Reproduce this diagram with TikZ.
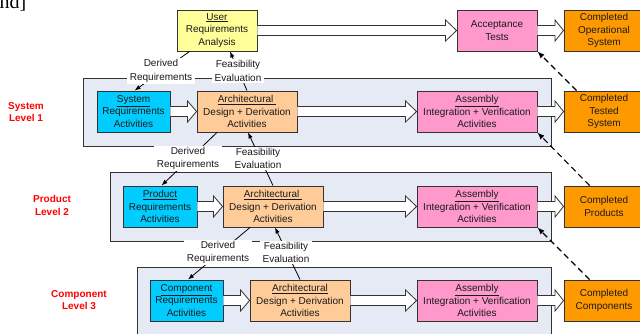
\documentclass[tikz,border=0pt]{standalone}
\usepackage{fontspec}
\setmainfont{Liberation Sans}
\newfontfamily\seriffont{Liberation Serif}
\usetikzlibrary{calc,arrows.meta}
\definecolor{uryellow}{HTML}{FFFF99}
\definecolor{reqcyan}{HTML}{00CCFF}
\definecolor{archorange}{HTML}{FFCC99}
\definecolor{asmpink}{HTML}{FF99CC}
\definecolor{donorange}{HTML}{FF9900}
\definecolor{panelbg}{HTML}{E5EAF4}
\definecolor{edgegray}{HTML}{333333}
\definecolor{txtgray}{HTML}{1A1A1A}
\definecolor{lvlred}{HTML}{FF0000}
\newcommand{\harrow}[3][10pt]{\draw[hollow] let \p1=(#2.east), \p2=(#3.west) in
  (\x1,\y1+5pt) -- (\x2-#1,\y1+5pt) -- (\x2-#1,\y1+10.5pt) -- (\x2,\y1) --
  (\x2-#1,\y1-10.5pt) -- (\x2-#1,\y1-5pt) -- (\x1,\y1-5pt);}
\begin{document}
\begin{tikzpicture}[x=1pt,y=-1pt,
  box/.style={draw=edgegray, line width=0.9pt, minimum height=41pt, inner sep=0pt,
    align=center, text=txtgray, font=\fontsize{10}{12.7}\selectfont},
  panel/.style={fill=panelbg, draw=edgegray, line width=0.9pt},
  lbl/.style={fill=white, inner xsep=2.5pt, inner ysep=1.5pt, align=center,
    text=txtgray, font=\fontsize{10}{13.4}\selectfont},
  lvl/.style={align=center, text=lvlred, font=\bfseries\fontsize{10}{12.5}\selectfont},
  conn/.style={draw=black, line width=0.8pt, -{Latex[length=6pt,width=4.5pt]}},
  dasharrow/.style={draw=black, line width=1.1pt, dash pattern=on 6pt off 4pt,
    -{Latex[length=7pt,width=5.5pt]}},
  hollow/.style={fill=white, draw=edgegray, line width=0.8pt, line join=miter}
]
\useasboundingbox (0,0) rectangle (640,334);

% fragment of text at top left
\node[font=\seriffont\fontsize{20}{20}\selectfont, anchor=base west, inner sep=0pt, text=black] (frag) at (-0.5,9) {nd]};

% panels
\path[panel] (83,78) rectangle (551,146);
\path[panel] (110,172) rectangle (551,241);
\path[panel] (137,267) rectangle (551,345);

% level labels
\node[lvl] (lv1) at (26,112) {System\\Level 1};
\node[lvl] (lv2) at (52,205.5) {Product\\Level 2};
\node[lvl] (lv3) at (79,300) {Component\\Level 3};

% boxes
\node[box, fill=uryellow, minimum width=80pt] (ur) at (217,30.5) {\underline{User}\\Requirements\\Analysis};
\node[box, fill=asmpink, minimum width=80pt] (at) at (497,30.5) {Acceptance\\Tests};
\node[box, fill=donorange, minimum width=80pt] (cos) at (604,30.5) {Completed\\Operational\\System};

\node[box, fill=reqcyan, minimum width=73pt] (sr) at (133.5,111.5) {\underline{System}\\Requirements\\Activities};
\node[box, fill=archorange, minimum width=100pt] (a1) at (247,111.5) {\underline{Architectural }\\Design + Derivation\\Activities};
\node[box, fill=asmpink, minimum width=120pt] (asm1) at (477,111.5) {\underline{Assembly}\\Integration + Verification\\Activities};
\node[box, fill=donorange, minimum width=80pt] (cts) at (604,111.5) {Completed\\Tested\\System};

\node[box, fill=reqcyan, minimum width=74pt] (pr) at (160,206.5) {\underline{Product}\\Requirements\\Activities};
\node[box, fill=archorange, minimum width=100pt] (a2) at (273,206.5) {\underline{Architectural }\\Design + Derivation\\Activities};
\node[box, fill=asmpink, minimum width=120pt] (asm2) at (477,206.5) {\underline{Assembly}\\Integration + Verification\\Activities};
\node[box, fill=donorange, minimum width=80pt] (cp) at (604,206.5) {Completed\\Products};

\node[box, fill=reqcyan, minimum width=73pt] (cr) at (186.5,300.5) {\underline{Component}\\Requirements\\Activities};
\node[box, fill=archorange, minimum width=100pt] (a3) at (300,300.5) {\underline{Architectural}\\Design + Derivation\\Activities};
\node[box, fill=asmpink, minimum width=120pt] (asm3) at (477,300.5) {\underline{Assembly}\\Integration + Verification\\Activities};
\node[box, fill=donorange, minimum width=80pt] (cc) at (604,300.5) {Completed\\Components};

% thin connectors
\draw[conn] ([xshift=13pt]ur.south west) -- ([xshift=38pt]sr.north west);
\draw[conn] (a1.north) -- ([xshift=13pt]ur.south);
\draw[conn] ([xshift=-30pt]a1.south) -- ([xshift=39pt]pr.north west);
\draw[conn] (a2.north) -- ([xshift=1pt]a1.south);
\draw[conn] ([xshift=-23pt]a2.south) -- ([xshift=1.5pt]cr.north);
\draw[conn] (a3.north) -- ([xshift=2pt]a2.south);

% connector labels
\node[lbl] (d1) at (161,71) {Derived\\Requirements};
\node[lbl] (f1) at (238,71) {Feasibility\\Evaluation};
\node[lbl] (d2) at (188,158.5) {Derived\\Requirements};
\node[lbl] (f2) at (258,158.5) {Feasibility\\Evaluation};
\node[lbl] (d3) at (218,252.5) {Derived\\Requirements};
\node[lbl] (f3) at (286,252.5) {Feasibility\\Evaluation};

% hollow arrows
\harrow[11pt]{ur}{at}
\harrow[8.5pt]{at}{cos}
\harrow[9pt]{sr}{a1}
\harrow[11pt]{a1}{asm1}
\harrow[8.5pt]{asm1}{cts}
\harrow[9pt]{pr}{a2}
\harrow[11pt]{a2}{asm2}
\harrow[8.5pt]{asm2}{cp}
\harrow[9pt]{cr}{a3}
\harrow[11pt]{a3}{asm3}
\harrow[8.5pt]{asm3}{cc}

% dashed feedback arrows
\draw[dasharrow] ([xshift=13pt]cts.north west) -- (at.south east);
\draw[dasharrow] ([xshift=26pt]cp.north west) -- (asm1.south east);
\draw[dasharrow] ([xshift=26pt]cc.north west) -- (asm2.south east);
\end{tikzpicture}
\end{document}
